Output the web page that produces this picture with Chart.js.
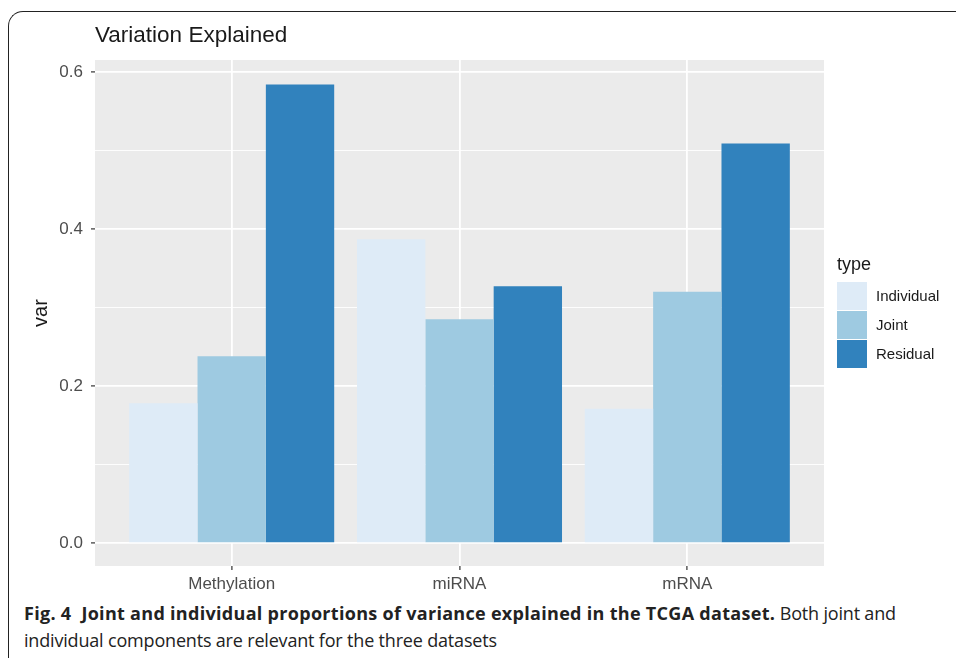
<!DOCTYPE html>
<html>
<head>
<meta charset="utf-8">
<script src="https://cdn.jsdelivr.net/npm/chart.js@4/dist/chart.umd.min.js"></script>
<style>
  body { margin: 0; background: #fff; width: 956px; height: 658px; overflow: hidden; position: relative; }
  #frame { position: absolute; left: 8px; top: 11px; width: 1000px; height: 700px;
           border-left: 1.5px solid #222; border-top: 1.5px solid #222; border-top-left-radius: 15px; }
  #wrap { position: absolute; left: 0; top: 0; width: 956px; height: 600px; }
  #caption { position: absolute; left: 24px; top: 600px; font-family: "Open Sans", sans-serif;
             font-size: 18px; line-height: 27px; color: #222; white-space: nowrap; letter-spacing: -0.18px; }
  #caption b { font-weight: 700; letter-spacing: 0.3px; }
</style>
</head>
<body>
<div id="frame"></div>
<div id="wrap"><canvas id="myChart" width="956" height="600"></canvas></div>
<div id="caption"><b>Fig. 4&nbsp; Joint and individual proportions of variance explained in the TCGA dataset.</b> Both joint and<br>individual components are relevant for the three datasets</div>

<script>
// categories on the x axis
const categories = ['Methylation', 'miRNA', 'mRNA'];
// variance shares
const individualVals = [0.178, 0.387, 0.171];
const jointVals = [0.238, 0.285, 0.320];
const residualVals = [0.584, 0.327, 0.509];
const seriesNames = ['Individual', 'Joint', 'Residual'];
const seriesColors = ['#DEEBF7', '#9ECAE1', '#3182BD'];
const yTicks = [0, 0.1, 0.2, 0.3, 0.4, 0.5, 0.6];

const toPoints = (vals) => vals.map((v, i) => ({ x: i + 1, y: v }));

//grey ggplot panel behind the grid
const panelBg = {
  id: 'panelBg',
  beforeDraw(chart) {
    const { ctx, chartArea: a } = chart;
    ctx.save();
    ctx.fillStyle = '#EBEBEB';
    ctx.fillRect(a.left, a.top, a.right - a.left, a.bottom - a.top);
    ctx.restore();
  }
};

//legend drawn beside the panel like ggplot does
const sideLegend = {
  id: 'sideLegend',
  afterDraw(chart) {
    const { ctx, chartArea: a } = chart;
    const x = a.right + 13;
    const mid = (a.top + a.bottom) / 2;
    const top = mid - 31;
    ctx.save();
    ctx.fillStyle = '#1A1A1A';
    ctx.font = '18px "Liberation Sans", Arial, sans-serif';
    ctx.textBaseline = 'alphabetic';
    ctx.fillText('type', x, top - 12);
    chart.data.datasets.forEach((ds, i) => {
      const y = top + i * 29;
      ctx.fillStyle = ds.backgroundColor;
      ctx.fillRect(x, y, 30, 28);
      ctx.fillStyle = '#1A1A1A';
      ctx.font = '15px "Liberation Sans", Arial, sans-serif';
      ctx.textBaseline = 'middle';
      ctx.fillText(ds.label, x + 39, y + 15);
    });
    ctx.restore();
  }
};

const ctx = document.getElementById('myChart').getContext('2d');
new Chart(ctx, {
  type: 'bar',
  data: {
    datasets: [
      { label: seriesNames[0], data: toPoints(individualVals), backgroundColor: seriesColors[0] },
      { label: seriesNames[1], data: toPoints(jointVals), backgroundColor: seriesColors[1] },
      { label: seriesNames[2], data: toPoints(residualVals), backgroundColor: seriesColors[2] },
    ],
  },
  options: {
    responsive: false,
    animation: false,
    layout: { padding: { left: 25, right: 132, top: 0, bottom: 0 } },
    datasets: { bar: { categoryPercentage: 0.9, barPercentage: 1.0, borderWidth: 0 } },
    plugins: {
      legend: { display: false },
      tooltip: { enabled: false },
      title: {
        display: true,
        text: 'Variation Explained',
        align: 'start',
        fullSize: false,
        color: '#1A1A1A',
        font: { family: '"Liberation Sans", Arial, sans-serif', size: 22.5, weight: 'normal' },
        padding: { top: 22, bottom: 11 },
      },
    },
    scales: {
      x: {
        type: 'linear',
        min: 0.4,
        max: 3.6,
        offset: false,
        afterBuildTicks: (scale) => { scale.ticks = categories.map((c, i) => ({ value: i + 1 })); },
        afterFit: (scale) => { scale.height = 34; },
        ticks: {
          callback: (v) => categories[v - 1],
          color: '#4D4D4D',
          padding: 4,
          maxRotation: 0,
          font: { family: '"Liberation Sans", Arial, sans-serif', size: 17 },
        },
        grid: { offset: false, color: '#FFFFFF', lineWidth: 1.8, tickLength: 4, tickColor: '#333333', tickWidth: 1.2 },
        border: { display: false },
      },
      y: {
        min: -0.0292,
        max: 0.6152,
        afterBuildTicks: (scale) => { scale.ticks = yTicks.map((v) => ({ value: v })); },
        afterFit: (scale) => { scale.width = 70; },
        title: {
          display: true,
          text: 'var',
          color: '#1A1A1A',
          font: { family: '"Liberation Sans", Arial, sans-serif', size: 20 },
          padding: { top: 4, bottom: 0 },
        },
        ticks: {
          callback: (v) => (Math.round(v * 10) % 2 === 0 ? v.toFixed(1) : ''),
          color: '#4D4D4D',
          padding: 8,
          font: { family: '"Liberation Sans", Arial, sans-serif', size: 17 },
        },
        grid: {
          color: '#FFFFFF',
          lineWidth: (c) => (Math.round(c.tick.value * 10) % 2 === 0 ? 1.8 : 0.9),
          tickLength: 4,
          tickColor: (c) => (Math.round(c.tick.value * 10) % 2 === 0 ? '#333333' : 'rgba(0,0,0,0)'),
          tickWidth: 1.2,
        },
        border: { display: false },
      },
    },
  },
  plugins: [panelBg, sideLegend],
});
</script>
</body>
</html>
